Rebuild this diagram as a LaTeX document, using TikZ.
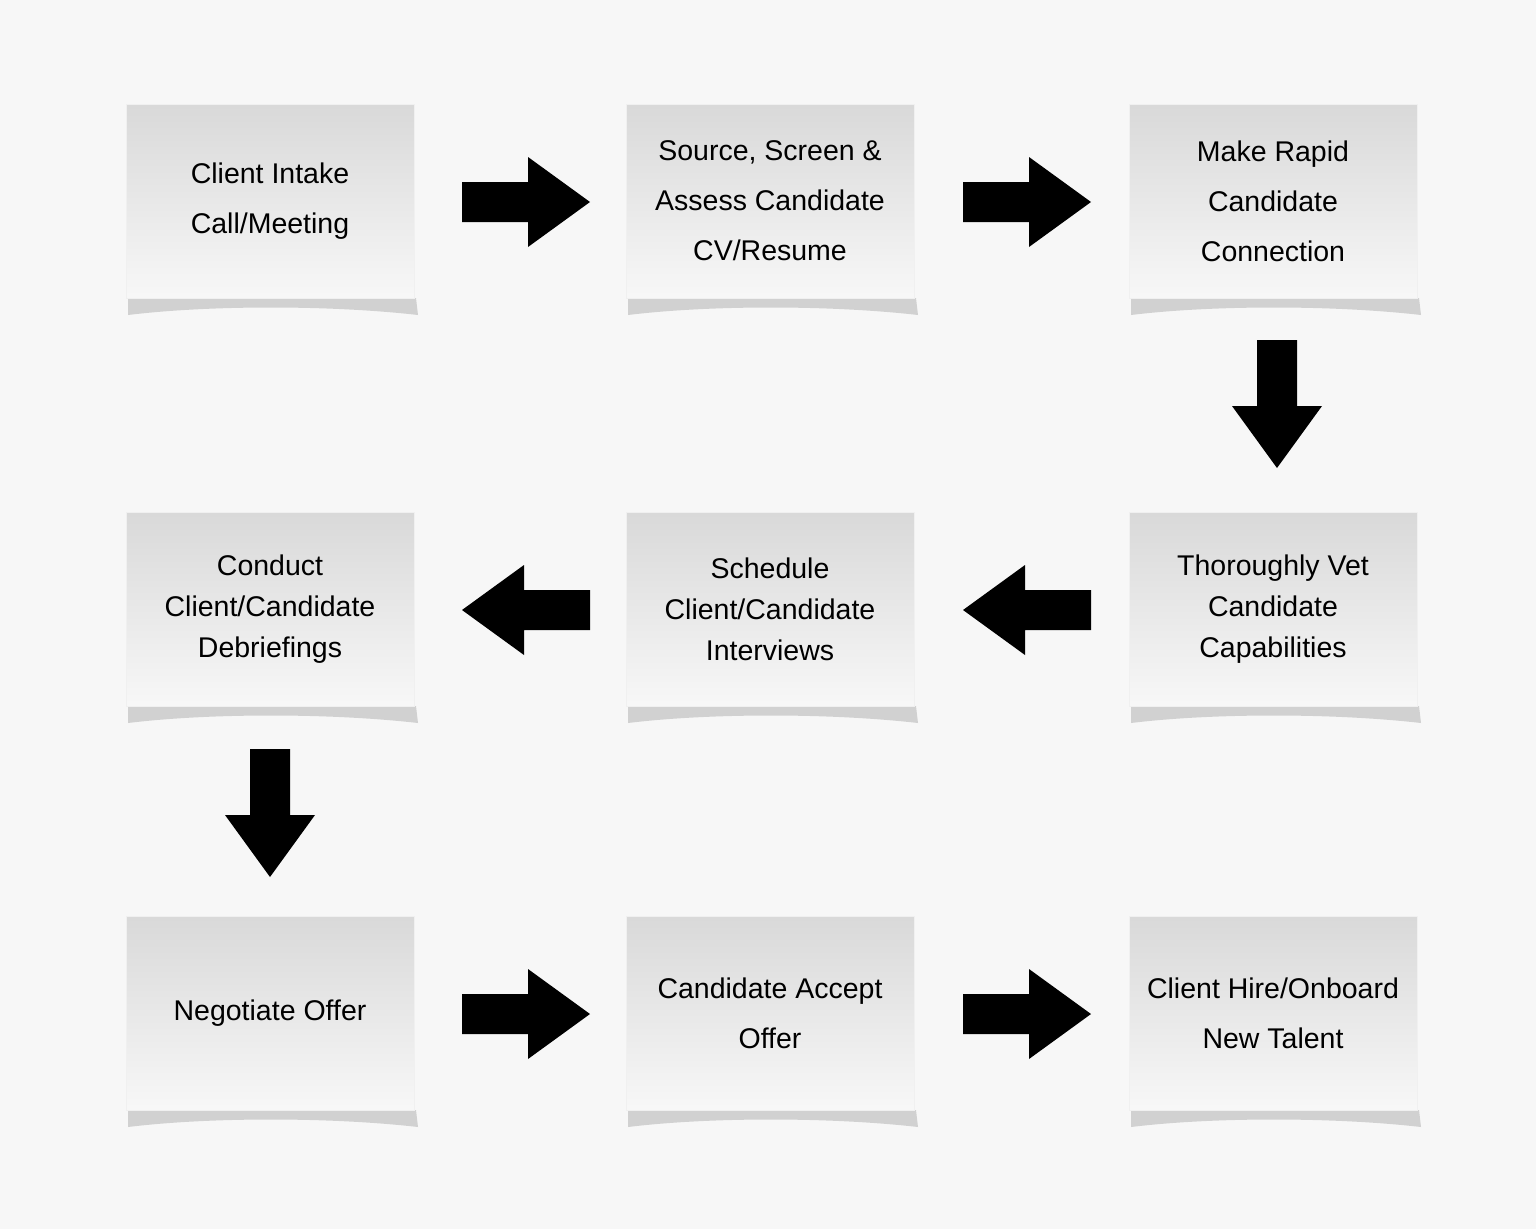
\documentclass[tikz,border=0pt]{standalone}
\usepackage{fontspec}
\setmainfont{Liberation Sans}
\begin{document}
\begin{tikzpicture}[x=1pt,y=-1pt,
 box/.style={minimum width=288pt,minimum height=194pt,inner sep=0pt,align=center,
   top color=black!15,bottom color=black!3,draw=black!6,
   font=\fontsize{28.5}{#1}\selectfont},
 box/.default=50,
 shad/.style={fill=black!45,opacity=0.35},
 arr/.style={fill=black},
 pics/rarr/.style={code={\fill[arr] (-64,-20) -- (2,-20) -- (2,-45) -- (64,0) -- (2,45) -- (2,20) -- (-64,20) -- cycle;}}]
\useasboundingbox (0,0) rectangle (1536,1229);
\fill[white!97!black] (0,0) rectangle (1536,1229);
\foreach \cx in {270,770,1273}{\foreach \cy in {201,609,1013}{
 \fill[shad] (\cx-142,\cy+97) -- (\cx+146,\cy+97) -- (\cx+148,\cy+114) .. controls (\cx+60,\cy+104) and (\cx-60,\cy+104) .. (\cx-142,\cy+114) -- cycle;}}
\node[box] (a) at (270,201) {Client Intake\\Call/Meeting};
\node[box] (b) at (770,201) {Source, Screen \&\\Assess Candidate\\CV/Resume};
\node[box] (c) at (1273,201) {Make Rapid\\Candidate\\Connection};
\node[box=41] (d) at (1273,609) {Thoroughly Vet\\Candidate\\Capabilities};
\node[box=41] (e) at (770,609) {Schedule\\Client/Candidate\\Interviews};
\node[box=41] (f) at (270,609) {Conduct\\Client/Candidate\\Debriefings};
\node[box] (g) at (270,1013) {Negotiate Offer};
\node[box] (h) at (770,1013) {Candidate Accept\\Offer};
\node[box] (i) at (1273,1013) {Client Hire/Onboard\\New Talent};
\pic (ab) at (526,202) {rarr};
\pic (bc) at (1027,202) {rarr};
\pic[rotate=-90] (cd) at (1277,404) {rarr};
\pic[rotate=180] (de) at (1027,610) {rarr};
\pic[rotate=180] (ef) at (526,610) {rarr};
\pic[rotate=-90] (fg) at (270,813) {rarr};
\pic (gh) at (526,1014) {rarr};
\pic (hi) at (1027,1014) {rarr};
\end{tikzpicture}
\end{document}
